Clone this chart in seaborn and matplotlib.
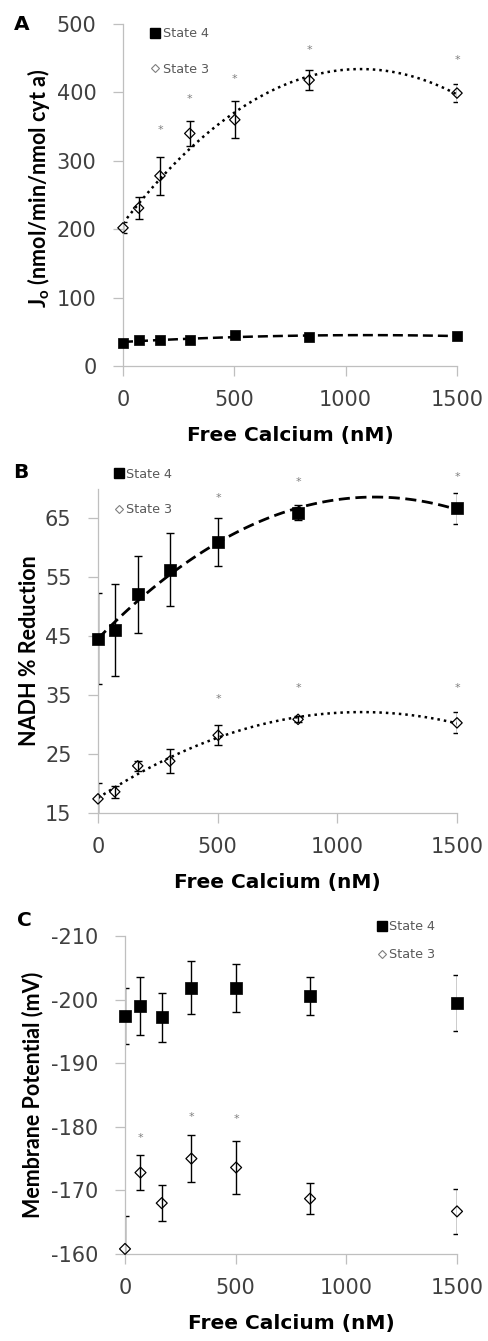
import numpy as np
import pandas as pd
import matplotlib
matplotlib.use("Agg")
import matplotlib.pyplot as plt
import seaborn as sns
from matplotlib.lines import Line2D

sns.set_theme(style="white")
plt.rcParams['font.family'] = ['DejaVu Sans']
plt.rcParams['axes.unicode_minus'] = False
plt.rcParams['mathtext.fontset'] = 'custom'
plt.rcParams['mathtext.rm'] = 'Lato'
plt.rcParams['mathtext.bf'] = 'Lato:bold'

# ---------------- data ----------------
calcium = [0, 70, 166, 300, 502, 836, 1500]
x_ticks = [0, 500, 1000, 1500]

# Panel A: oxygen consumption
a_state4 = [34, 38, 38, 38, 45, 43, 44]
a_state4_err = [2, 2, 2, 2, 3, 2, 2]
a_state3 = [202, 231, 278, 340, 360, 418, 399]
a_state3_err = [8, 16, 28, 18, 27, 15, 13]
a_star_x = [166, 300, 502, 836, 1500]
a_star_y = [345, 391, 420, 462, 447]
a_yticks = [0, 100, 200, 300, 400, 500]

# Panel B: NADH % reduction
b_state4 = [44.6, 46.0, 52.1, 56.3, 61.0, 66.0, 66.7]
b_state4_err = [7.7, 7.8, 6.5, 6.2, 4.1, 1.3, 2.7]
b_state3 = [17.4, 18.6, 23.0, 23.8, 28.2, 30.9, 30.3]
b_state3_err = [2.7, 1.0, 0.8, 2.0, 1.7, 0.5, 1.8]
b_star4_x = [502, 836, 1500]
b_star4_y = [68.4, 71.2, 72.1]
b_star3_x = [502, 836, 1500]
b_star3_y = [34.4, 36.3, 36.3]
b_yticks = [15, 25, 35, 45, 55, 65]

# Panel C: membrane potential
c_state4 = [-197.4, -199.0, -197.2, -201.9, -201.8, -200.6, -199.4]
c_state4_err = [4.4, 4.6, 3.8, 4.2, 3.8, 3.0, 4.4]
c_state3 = [-160.8, -172.8, -168.0, -175.0, -173.6, -168.7, -166.7]
c_state3_err = [5.1, 2.8, 2.8, 3.7, 4.2, 2.4, 3.5]
c_star_x = [70, 300, 502]
c_star_y = [-178.2, -181.6, -181.2]
c_yticks = [-210, -200, -190, -180, -170, -160]

# ---------------- style ----------------
SPINE = '#bfbfbf'
TICKC = '#404040'
TXT = '#595959'
W, H = 489, 1341

fig = plt.figure(figsize=(W / 100, H / 100), dpi=100)


def add_axes(left, right, top, bottom):
    return fig.add_axes([left / W, 1 - bottom / H, (right - left) / W, (bottom - top) / H])


def style_axes(ax):
    sns.despine(ax=ax)
    for s in ['left', 'bottom']:
        ax.spines[s].set_color(SPINE)
        ax.spines[s].set_linewidth(0.9)
    ax.tick_params(axis='both', which='major', direction='out', length=7, width=0.9,
                   color=SPINE, labelsize=15, labelcolor=TICKC, left=True, bottom=True)
    ax.tick_params(axis='x', pad=10)
    ax.tick_params(axis='y', pad=12)
    ax.set_xlim(0, 1500)
    ax.set_xticks(x_ticks)
    ax.set_xlabel('Free Calcium (nM)', fontsize=14.5, fontweight='bold', color='black', labelpad=12)
    ax.patch.set_alpha(0)


def draw_series(ax, y, err, filled, s):
    ax.errorbar(calcium, y, yerr=err, fmt='none', ecolor='black', elinewidth=1.0,
                capsize=3.2, capthick=1.0, zorder=2)
    if filled:
        sns.scatterplot(x=calcium, y=y, marker='s', s=s, color='black', edgecolor='black',
                        linewidth=0.5, ax=ax, zorder=3, clip_on=False)
    else:
        sns.scatterplot(x=calcium, y=y, marker='D', s=s, color='black', facecolor='none',
                        edgecolor='black', linewidth=0.9, ax=ax, zorder=3, clip_on=False)


def trend(ax, y, ls, lw):
    sns.regplot(x=np.array(calcium, dtype=float), y=np.array(y, dtype=float), order=2, ci=None,
                scatter=False, truncate=True, ax=ax,
                line_kws=dict(color='black', linestyle=ls, linewidth=lw, zorder=1))


def stars(ax, xs, ys):
    for xv, yv in zip(xs, ys):
        ax.text(xv, yv, '*', ha='center', va='center', fontsize=8, color='#7f7f7f', clip_on=False)


def legend(ax, x, y, spacing):
    handles = [Line2D([], [], marker='s', color='black', ls='none', markersize=6.5),
               Line2D([], [], marker='D', color='#7f7f7f', mfc='white', mec='#7f7f7f', ls='none',
                      markersize=4.2, mew=0.8)]
    leg = ax.legend(handles, ['State 4', 'State 3'], loc='upper left', bbox_to_anchor=(x, y),
                    frameon=False, fontsize=9.2, handlelength=0.7, handletextpad=0.25,
                    labelspacing=spacing, borderpad=0, borderaxespad=0, labelcolor=TXT)
    return leg


YLAB = dict(fontsize=15.5, fontweight='bold', color='black', fontfamily='Lato')

# ---------------- Panel A ----------------
axA = add_axes(123, 457, 24, 366)
trend(axA, a_state4, (0, (4, 2)), 1.8)
trend(axA, a_state3, (0, (1, 1.6)), 1.8)
draw_series(axA, a_state4, a_state4_err, True, 55)
draw_series(axA, a_state3, a_state3_err, False, 28)
stars(axA, a_star_x, a_star_y)
axA.set_ylim(0, 500)
axA.set_yticks(a_yticks)
style_axes(axA)
axA.set_ylabel(r'J$_{\mathbf{o}}$ (nmol/min/nmol cyt a)', **YLAB)
axA.yaxis.set_label_coords(-0.213, 0.52)
legend(axA, 0.083, 0.99, 1.75)

# ---------------- Panel B ----------------
axB = add_axes(98, 457, 489, 813)
trend(axB, b_state4, (0, (4, 2)), 2.0)
trend(axB, b_state3, (0, (1, 1.6)), 1.8)
draw_series(axB, b_state4, b_state4_err, True, 64)
draw_series(axB, b_state3, b_state3_err, False, 28)
stars(axB, b_star4_x, b_star4_y)
stars(axB, b_star3_x, b_star3_y)
axB.set_ylim(15, 70)
axB.set_yticks(b_yticks)
style_axes(axB)
axB.set_ylabel('NADH % Reduction', **YLAB)
axB.yaxis.set_label_coords(-0.162, 0.5)
legend(axB, 0.045, 1.065, 1.75)

# ---------------- Panel C ----------------
axC = add_axes(125, 457, 936, 1254)
draw_series(axC, c_state4, c_state4_err, True, 72)
draw_series(axC, c_state3, c_state3_err, False, 31)
stars(axC, c_star_x, c_star_y)
axC.set_ylim(-160, -210)
axC.set_yticks(c_yticks)
style_axes(axC)
axC.set_ylabel('Membrane Potential (mV)', **YLAB)
axC.yaxis.set_label_coords(-0.247, 0.5)
legend(axC, 0.76, 1.05, 1.2)

# ---------------- panel letters ----------------
for letter, (px, py) in zip(['A', 'B', 'C'], [(22, 24), (21, 472), (24, 921)]):
    fig.text(px / W, 1 - py / H, letter, ha='center', va='center', fontsize=14.5,
             fontweight='bold', color='black')

fig.savefig('out.png', dpi=100, facecolor='white')
